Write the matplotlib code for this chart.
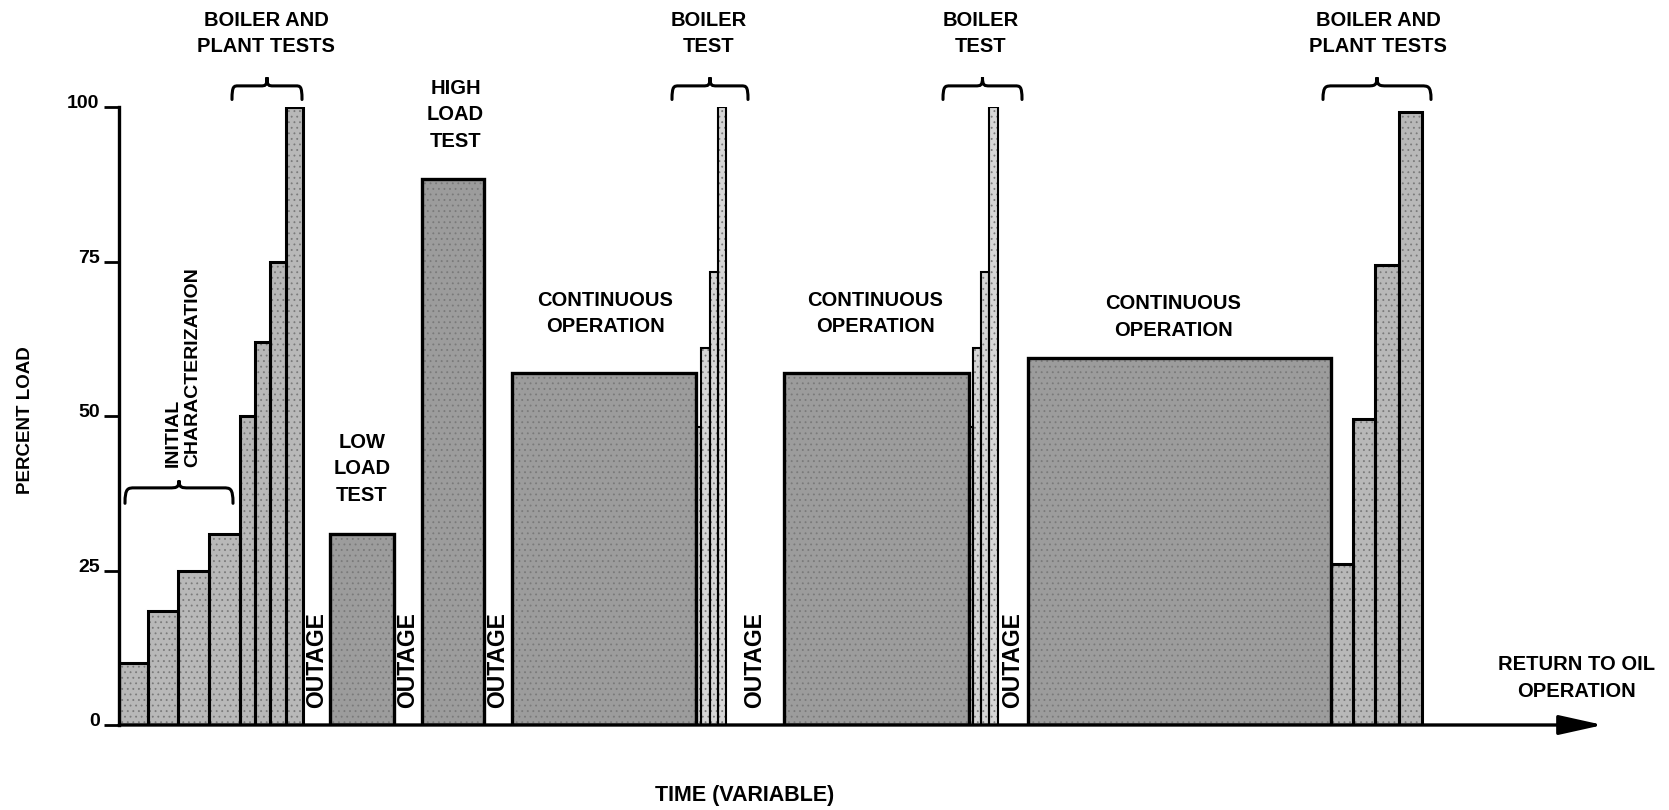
import matplotlib
matplotlib.use("Agg")
import matplotlib.pyplot as plt
import matplotlib.transforms as mtransforms
from matplotlib import font_manager
from matplotlib.path import Path
from matplotlib.patches import PathPatch

seg_start = [0, 29, 59, 89.5, 120.5, 136, 151, 167,
             211, 303,
             393, 577, 582, 590.5, 598.5,
             665, 850, 854, 862, 870,
             908.5, 1212, 1234, 1256, 1280]
seg_end = [29, 59, 89.5, 120.5, 136, 151, 167, 183.5,
           274.5, 365,
           577, 582, 590.5, 598.5, 607,
           850, 854, 862, 870, 879,
           1212, 1234, 1256, 1280, 1303]
seg_load = [10, 18.5, 25, 31, 50, 62, 75, 100,
            31, 88.5,
            57, 48.3, 61, 73.4, 100,
            57, 48.3, 61, 73.4, 100,
            59.5, 26, 49.5, 74.5, 99.3]
seg_group = (["step"] * 8 + ["block"] * 3 + ["spike"] * 4 +
             ["block"] + ["spike"] * 4 + ["block"] + ["step"] * 4)

y_ticks = [0, 25, 50, 75, 100]

# phase labels: text, x, y
phase_labels = [
    ("BOILER AND\nPLANT TESTS", 147, 112.0),
    ("LOW\nLOAD\nTEST", 243, 41.5),
    ("HIGH\nLOAD\nTEST", 336.5, 98.8),
    ("CONTINUOUS\nOPERATION", 486, 66.6),
    ("BOILER\nTEST", 590, 112.0),
    ("CONTINUOUS\nOPERATION", 756, 66.6),
    ("BOILER\nTEST", 862, 112.0),
    ("CONTINUOUS\nOPERATION", 1054, 66.1),
    ("BOILER AND\nPLANT TESTS", 1259, 112.0),
    ("RETURN TO OIL\nOPERATION", 1457, 7.6),
]

# braces: x0, x1, y of curl ends, y of bar, y of tip
braces = [
    (113, 183, 101.3, 103.5, 104.9),
    (6, 114, 35.9, 38.4, 39.6),
    (553, 629, 101.3, 103.5, 104.9),
    (824, 903, 101.3, 103.5, 104.9),
    (1204, 1312, 101.3, 103.5, 104.9),
]

FILL = {"step": "#b8b8b8", "block": "#9c9c9c", "spike": "#d6d6d6"}
EDGE_W = {"step": 2.2, "block": 2.4, "spike": 1.5}

names = {f.name for f in font_manager.fontManager.ttflist}
NARROW = "Liberation Sans Narrow" if "Liberation Sans Narrow" in names else "Liberation Sans"
WIDE = "Liberation Sans"


def draw_brace(ax, x0, x1, y_end, y_line, y_tip):
    xm = (x0 + x1) / 2
    r = (x1 - x0) * 0.09
    verts = [
        (x0, y_end), (x0, y_line), (x0 + 0.3 * r, y_line), (x0 + r, y_line),
        (xm - r, y_line),
        (xm - 0.3 * r, y_line), (xm, y_line), (xm, y_tip),
        (xm, y_line), (xm + 0.3 * r, y_line), (xm + r, y_line),
        (x1 - r, y_line),
        (x1 - 0.3 * r, y_line), (x1, y_line), (x1, y_end),
    ]
    codes = ([Path.MOVETO] + [Path.CURVE4] * 3 + [Path.LINETO] +
             [Path.CURVE4] * 6 + [Path.LINETO] + [Path.CURVE4] * 3)
    ax.add_patch(PathPatch(Path(verts, codes), fill=False, lw=2.2,
                           color="black", clip_on=False, capstyle="round"))


fig = plt.figure(figsize=(16.69, 8.10), dpi=100)
ax = fig.add_axes([119 / 1669, 85 / 810, 1484 / 1669, 617.5 / 810])
ax.set_xlim(0, 1484)
ax.set_ylim(0, 100)

plt.rcParams["hatch.linewidth"] = 0.6

# bars: textured fill first, then black outlines on top
for s, e, h, g in zip(seg_start, seg_end, seg_load, seg_group):
    ax.bar(s, h, width=e - s, align="edge", facecolor=FILL[g],
           edgecolor="#7a7a7a", linewidth=0, hatch="...", zorder=2)
for s, e, h, g in zip(seg_start, seg_end, seg_load, seg_group):
    ax.bar(s, h, width=e - s, align="edge", fill=False,
           edgecolor="black", linewidth=EDGE_W[g], zorder=3)

# outage labels in the gaps between operating periods
for i in range(len(seg_start) - 1):
    if seg_start[i + 1] - seg_end[i] > 10:
        xm = (seg_end[i] + seg_start[i + 1]) / 2
        ax.text(xm, 2.7, "OUTAGE", rotation=90, ha="center", va="bottom",
                fontsize=16.5, fontweight="bold", family=NARROW)

for txt, x, y in phase_labels:
    ax.text(x, y, txt, ha="center", va="center", fontsize=14.5,
            fontweight="bold", family=WIDE, linespacing=1.5, clip_on=False)

ax.text(64, 41.8, "INITIAL\nCHARACTERIZATION", rotation=90, ha="center",
        va="bottom", multialignment="left", fontsize=14, fontweight="bold",
        family=NARROW, linespacing=1.25)

for b in braces:
    draw_brace(ax, *b)

# axes: left spine plus a long arrow as the time axis
for side in ["top", "right", "bottom"]:
    ax.spines[side].set_visible(False)
ax.spines["left"].set_linewidth(2.4)
ax.spines["left"].set_zorder(4)
ax.annotate("", xy=(1484, 0), xytext=(0, 0), xycoords="data",
            arrowprops=dict(arrowstyle="-|>,head_length=1.35,head_width=0.3",
                            mutation_scale=20, lw=2.4, color="black",
                            shrinkA=0, shrinkB=0),
            annotation_clip=False, zorder=4)

ax.set_xticks([])
ax.set_yticks(y_ticks)
ax.set_yticklabels([str(t) for t in y_ticks], fontsize=14, fontweight="bold",
                   family=WIDE)
ax.tick_params(axis="y", direction="out", length=11, width=2, pad=3)
offset = mtransforms.ScaledTranslation(0, 4 / 72, fig.dpi_scale_trans)
for lbl in ax.get_yticklabels():
    lbl.set_transform(lbl.get_transform() + offset)

fig.text(25.5 / 1669, (810 - 420) / 810, "PERCENT LOAD", rotation=90,
         ha="center", va="center", fontsize=13.5, fontweight="bold", family=NARROW)
fig.text(745 / 1669, (810 - 796) / 810, "TIME (VARIABLE)", ha="center",
         va="center", fontsize=15.5, fontweight="bold", family=NARROW)

fig.savefig("out.png", dpi=100)
